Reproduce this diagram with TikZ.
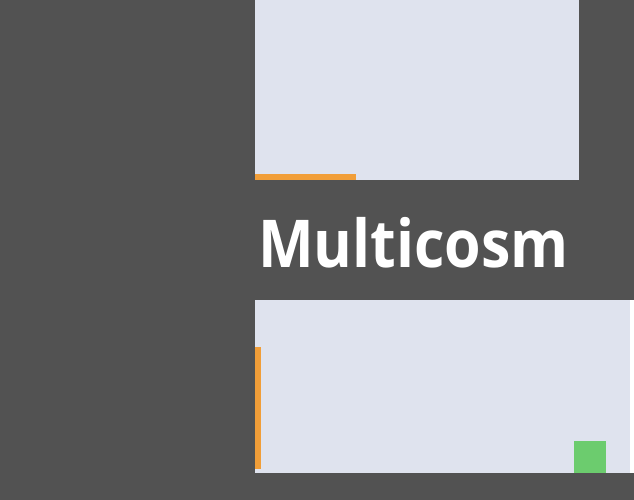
\documentclass[tikz,border=0pt]{standalone}
\usepackage{fontspec}
\setmainfont{Open Sans}
\definecolor{bggray}{HTML}{525252}
\definecolor{panel}{HTML}{DFE3EE}
\definecolor{accent}{HTML}{F19E38}
\definecolor{leaf}{HTML}{6CCC6E}
\begin{document}
\begin{tikzpicture}[x=1pt,y=-1pt]
\useasboundingbox (0,0) rectangle (634,500);
\fill[bggray] (0,0) rectangle (634,500);
\fill[panel] (255,0) rectangle (579,180);
\fill[accent] (255,174) rectangle (356,180);
\node[anchor=base west,inner sep=0,text=white,font=\fontsize{66}{70}\selectfont\bfseries] (title) at (258,267) {\scalebox{0.895}[1]{Multicosm}};
\fill[panel] (255,300) rectangle (630,473);
\fill[white] (630,300) rectangle (634,473);
\fill[accent] (255,347) rectangle (261,469);
\fill[leaf] (574,441) rectangle (606,473);
\end{tikzpicture}
\end{document}
